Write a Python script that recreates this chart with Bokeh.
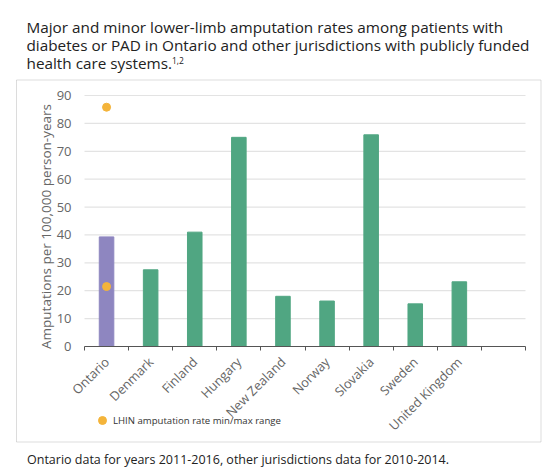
import numpy as np
from bokeh.plotting import figure
from bokeh.models import (Range1d, FixedTicker, LinearAxis, Label, Legend, LegendItem,
                          BoxAnnotation)
from bokeh.embed import file_html
from bokeh.resources import INLINE

countries = ["Ontario", "Denmark", "Finland", "Hungary", "New Zealand",
             "Norway", "Slovakia", "Sweden", "United Kingdom"]
rates = [39.3, 27.5, 41.0, 75.0, 18.0, 16.3, 75.9, 15.3, 23.2]
lhin_range = [21.5, 85.8]          # Ontario LHIN min / max
y_ticks = [0, 10, 20, 30, 40, 50, 60, 70, 80, 90]
n_slots = 10                       # one empty slot at the right end

FONT = "Open Sans"
PURPLE = "#8e86c0"
GREEN = "#50a682"
ORANGE = "#f4b43a"
GREY = "#666666"

W, H = 558, 475
# plot area in page pixels: x 84..525 for 0..10, y 346..95 for 0..90
px_x = (525 - 84) / n_slots
px_y = (346 - 95) / 90

x = np.arange(len(countries)) + 0.5
colors = [PURPLE] + [GREEN] * (len(countries) - 1)

p = figure(width=W, height=H, title=None, output_backend="svg", toolbar_location=None,
           x_range=Range1d(-84 / px_x, n_slots + (W - 525) / px_x),
           y_range=Range1d(-(H - 346) / px_y, 90 + 95 / px_y),
           x_axis_type=None, y_axis_type=None,
           min_border=0, min_border_left=0, min_border_right=0,
           min_border_top=0, min_border_bottom=0)
p.outline_line_color = None
p.grid.grid_line_color = None

# grid lines across the used slots
p.segment(x0=0, x1=n_slots, y0=y_ticks[1:], y1=y_ticks[1:], line_color="#e3e3e3", line_width=1.2)

p.vbar(x=x, top=rates, width=0.33, color=colors)
dots = p.scatter(x=[x[0]] * len(lhin_range), y=lhin_range, size=8, color=ORANGE)

# x axis: labels under the bars, ticks on the slot boundaries
xaxis = LinearAxis(fixed_location=0, bounds=(0, n_slots),
                   ticker=FixedTicker(ticks=list(x), minor_ticks=list(range(n_slots + 1))))
xaxis.major_label_overrides = {float(v): c for v, c in zip(x, countries)}
xaxis.major_label_orientation = np.pi / 4
xaxis.major_tick_line_color = None
xaxis.major_tick_out = 0
xaxis.major_tick_in = 0
xaxis.minor_tick_out = 4
xaxis.minor_tick_in = 0
xaxis.minor_tick_line_color = "#555555"
xaxis.axis_line_color = "#555555"
xaxis.major_label_standoff = 9
xaxis.major_label_text_font = FONT
xaxis.major_label_text_font_size = "12.8px"
xaxis.major_label_text_color = GREY
p.add_layout(xaxis, "below")

yaxis = LinearAxis(fixed_location=0, bounds=(0, 90), ticker=FixedTicker(ticks=y_ticks))
yaxis.axis_line_color = None
yaxis.major_tick_line_color = None
yaxis.minor_tick_line_color = None
yaxis.major_tick_out = 0
yaxis.major_tick_in = 0
yaxis.major_label_standoff = 13
yaxis.major_label_text_font = FONT
yaxis.major_label_text_font_size = "13px"
yaxis.major_label_text_color = GREY
p.add_layout(yaxis, "left")

p.add_layout(Label(x=45, y=H - 226, x_units="screen", y_units="screen", angle=np.pi / 2,
                   text="Amputations per 100,000 person-years", text_align="center",
                   text_baseline="middle", text_font=FONT, text_font_size="13.5px",
                   text_color=GREY))

# surrounding box
p.add_layout(BoxAnnotation(left=16, right=540.5, top=H - 79.5, bottom=H - 441.5,
                           left_units="screen", right_units="screen",
                           top_units="screen", bottom_units="screen",
                           fill_color=None, line_color="#8c8c8c", line_width=1))

legend = Legend(items=[LegendItem(label="LHIN amputation rate min/max range", renderers=[dots])],
                location=(92, H - 430), glyph_width=20, glyph_height=20, label_height=20,
                label_standoff=1, padding=0, spacing=0, border_line_color=None,
                background_fill_alpha=0, label_text_font=FONT, label_text_font_size="9.6px",
                label_text_color="#333333")
p.add_layout(legend, "center")

title_lines = ["Major and minor lower-limb amputation rates among patients with",
               "diabetes or PAD in Ontario and other jurisdictions with publicly funded",
               "health care systems."]
for i, line in enumerate(title_lines):
    p.add_layout(Label(x=26, y=H - 26 - i * 18, x_units="screen", y_units="screen", text=line,
                       text_font=FONT, text_font_size="15.3px", text_color="#222222",
                       text_baseline="alphabetic"))
p.add_layout(Label(x=171.5, y=H - 60, x_units="screen", y_units="screen", text="1,2",
                   text_font=FONT, text_font_size="8.5px", text_color="#222222",
                   text_baseline="alphabetic"))

p.add_layout(Label(x=26.5, y=H - 459, x_units="screen", y_units="screen",
                   text="Ontario data for years 2011-2016, other jurisdictions data for 2010-2014.",
                   text_font=FONT, text_font_size="12.5px", text_color="#222222",
                   text_baseline="alphabetic"))

open("out.html", "w").write(file_html(p, INLINE))
